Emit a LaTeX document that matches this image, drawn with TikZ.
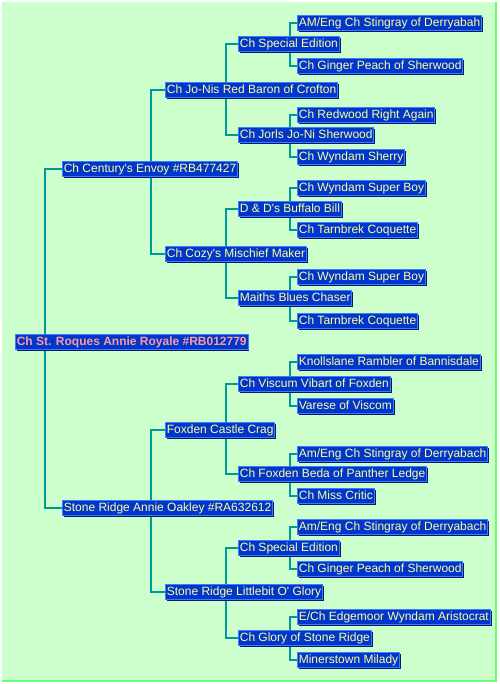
\documentclass[tikz,border=0pt]{standalone}
\usepackage{fontspec}
\setmainfont{Liberation Sans}
\usetikzlibrary{shadows}
\definecolor{bggreen}{HTML}{CCFFCC}
\definecolor{edgegreen}{HTML}{66FF66}
\definecolor{boxblue}{HTML}{0036CC}
\definecolor{boxlight}{HTML}{3D7BFF}
\definecolor{boxdark}{HTML}{001A66}
\definecolor{txtyellow}{HTML}{FFFF99}
\definecolor{txtpink}{HTML}{FF9999}
\definecolor{conncol}{HTML}{009999}
\pgfdeclarelayer{back}
\pgfdeclarelayer{lines}
\pgfsetlayers{back,lines,main}
\begin{document}
\begin{tikzpicture}[x=0.75pt,y=-0.75pt,
  dog/.style={anchor=west, yshift=-0.8pt, fill=boxblue, draw=boxlight, line width=0.75pt,
    text=txtyellow, font=\fontsize{9}{10}\selectfont,
    inner xsep=1pt, inner ysep=0.9pt, text height=7pt, text depth=2pt,
    drop shadow={shadow xshift=1.1pt, shadow yshift=-1.1pt, fill=boxdark, opacity=1}},
  rootdog/.style={dog, text=txtpink, font=\bfseries\fontsize{9}{10}\selectfont},
  conn/.style={draw=conncol, line width=1.7pt}]
\begin{pgfonlayer}{back}
  \fill[white] (0,0) rectangle (499,684);
  \fill[bggreen] (2,2) rectangle (496,681);
  \draw[edgegreen, line width=1.2pt] (496,2) -- (496,681) -- (2,681);
\end{pgfonlayer}
% root
\node[rootdog] (r) at (15,341) {Ch St. Roques Annie Royale \#RB012779};
% generation 1
\node[dog] (a) at (62,168) {Ch Century\textquotesingle s Envoy \#RB477427};
\node[dog] (b) at (62,507) {Stone Ridge Annie Oakley \#RA632612};
% generation 2
\node[dog] (aa) at (165,89) {Ch Jo-Nis Red Baron of Crofton};
\node[dog] (ab) at (165,253) {Ch Cozy\textquotesingle s Mischief Maker};
\node[dog] (ba) at (165,429) {Foxden Castle Crag};
\node[dog] (bb) at (165,591) {Stone Ridge Littlebit O\textquotesingle\ Glory};
% generation 3
\node[dog] (aaa) at (238,43) {Ch Special Edition};
\node[dog] (aab) at (238,134) {Ch Jorls Jo-Ni Sherwood};
\node[dog] (aba) at (238,208) {D \& D\textquotesingle s Buffalo Bill};
\node[dog] (abb) at (238,297) {Maiths Blues Chaser};
\node[dog] (baa) at (238,383) {Ch Viscum Vibart of Foxden};
\node[dog] (bab) at (238,473) {Ch Foxden Beda of Panther Ledge};
\node[dog] (bba) at (238,547) {Ch Special Edition};
\node[dog] (bbb) at (238,637) {Ch Glory of Stone Ridge};
% generation 4
\node[dog] (aaaa) at (297,22) {AM/Eng Ch Stingray of Derryabah};
\node[dog] (aaab) at (297,65) {Ch Ginger Peach of Sherwood};
\node[dog] (aaba) at (297,114) {Ch Redwood Right Again};
\node[dog] (aabb) at (297,156) {Ch Wyndam Sherry};
\node[dog] (abaa) at (297,187) {Ch Wyndam Super Boy};
\node[dog] (abab) at (297,229) {Ch Tarnbrek Coquette};
\node[dog] (abba) at (297,276) {Ch Wyndam Super Boy};
\node[dog] (abbb) at (297,320) {Ch Tarnbrek Coquette};
\node[dog] (baaa) at (297,361) {Knollslane Rambler of Bannisdale};
\node[dog] (baab) at (297,405) {Varese of Viscom};
\node[dog] (baba) at (297,453) {Am/Eng Ch Stingray of Derryabach};
\node[dog] (babb) at (297,495) {Ch Miss Critic};
\node[dog] (bbaa) at (297,526) {Am/Eng Ch Stingray of Derryabach};
\node[dog] (bbab) at (297,568) {Ch Ginger Peach of Sherwood};
\node[dog] (bbba) at (297,616) {E/Ch Edgemoor Wyndam Aristocrat};
\node[dog] (bbbb) at (297,659) {Minerstown Milady};
% connectors
\begin{pgfonlayer}{lines}
  \draw[conn] (a.west) -- ++(-17,0) |- (b.west);
  \draw[conn] (aa.west) -- ++(-14,0) |- (ab.west);
  \draw[conn] (ba.west) -- ++(-14,0) |- (bb.west);
  \draw[conn] (aaa.west) -- ++(-12,0) |- (aab.west);
  \draw[conn] (aba.west) -- ++(-12,0) |- (abb.west);
  \draw[conn] (baa.west) -- ++(-12,0) |- (bab.west);
  \draw[conn] (bba.west) -- ++(-12,0) |- (bbb.west);
  \draw[conn] (aaaa.west) -- ++(-7,0) |- (aaab.west);
  \draw[conn] (aaba.west) -- ++(-7,0) |- (aabb.west);
  \draw[conn] (abaa.west) -- ++(-7,0) |- (abab.west);
  \draw[conn] (abba.west) -- ++(-7,0) |- (abbb.west);
  \draw[conn] (baaa.west) -- ++(-7,0) |- (baab.west);
  \draw[conn] (baba.west) -- ++(-7,0) |- (babb.west);
  \draw[conn] (bbaa.west) -- ++(-7,0) |- (bbab.west);
  \draw[conn] (bbba.west) -- ++(-7,0) |- (bbbb.west);
\end{pgfonlayer}
\useasboundingbox (0,0) rectangle (499,684);
\end{tikzpicture}
\end{document}
